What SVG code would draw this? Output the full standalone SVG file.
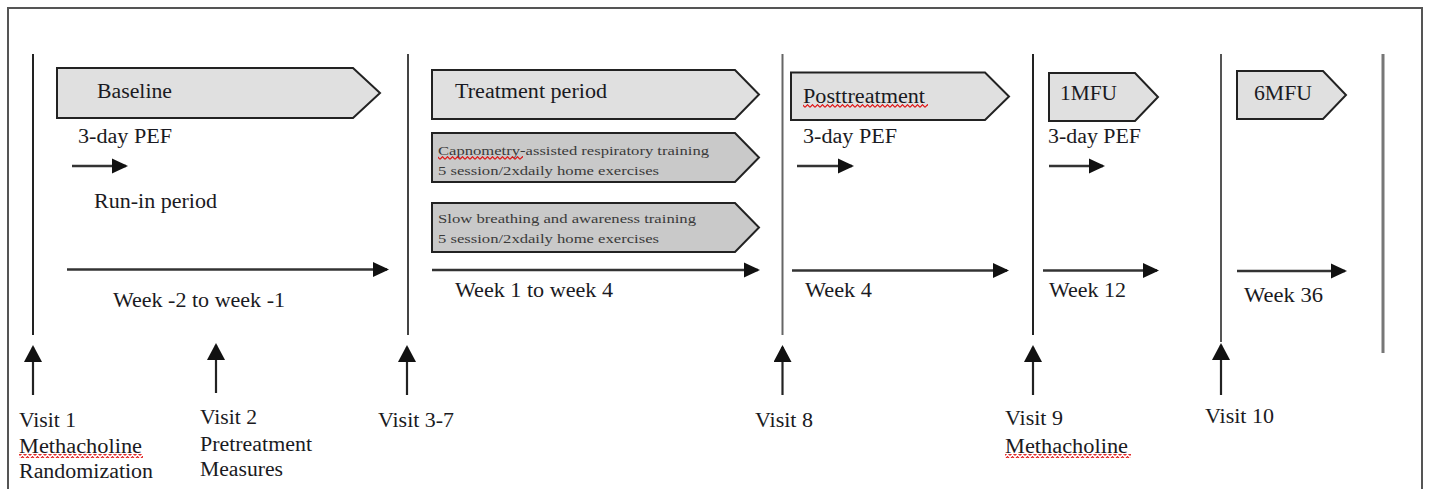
<svg xmlns="http://www.w3.org/2000/svg" width="1429" height="489" viewBox="0 0 1429 489">
<style>
.t{font-family:"Liberation Serif","Times New Roman",serif;font-size:20px;fill:#1a1a22}
.s{font-family:"Liberation Serif","Times New Roman",serif;font-size:13.5px;fill:#3a3a3a}
.box1{fill:#e0e0e0;stroke:#222;stroke-width:2}
.box2{fill:#c9c9c9;stroke:#222;stroke-width:2}
.harr{stroke:#333;stroke-width:2.5;fill:none;marker-end:url(#hh)}
.varr{stroke:#222;stroke-width:2.2;fill:none;marker-end:url(#vh)}
.sq{fill:url(#wave)}
</style>
<defs>
<marker id="hh" markerUnits="userSpaceOnUse" markerWidth="16" markerHeight="16" viewBox="0 0 16 16" refX="14" refY="8" orient="auto">
<path d="M0,0.5 L16,8 L0,15.5 Z" fill="#111"/>
</marker>
<marker id="vh" markerUnits="userSpaceOnUse" markerWidth="17" markerHeight="18" viewBox="0 0 17 18" refX="15" refY="9" orient="auto">
<path d="M0,0 L17,9 L0,18 Z" fill="#111"/>
</marker>
<pattern id="wave" patternUnits="userSpaceOnUse" width="5" height="4">
<path d="M0,3.3 L2.5,0.7 L5,3.3" stroke="#e01010" stroke-width="1.2" fill="none"/>
</pattern>
</defs>
<rect width="1429" height="489" fill="#fff"/>
<rect x="8" y="8" width="1414" height="500" fill="none" stroke="#555" stroke-width="2"/>

<g id="timeline-lines">
<line x1="33" y1="54" x2="33" y2="335" stroke="#222" stroke-width="2"/>
<line x1="408" y1="54" x2="408" y2="335" stroke="#444" stroke-width="2"/>
<line x1="782.5" y1="54" x2="782.5" y2="335" stroke="#666" stroke-width="2"/>
<line x1="1033" y1="54" x2="1033" y2="335" stroke="#222" stroke-width="2"/>
<line x1="1221" y1="54" x2="1221" y2="342" stroke="#555" stroke-width="2"/>
<line x1="1383" y1="54" x2="1383" y2="353" stroke="#777" stroke-width="3"/>
</g>

<g id="connectors">
<line class="harr" x1="72" y1="166" x2="126" y2="166"/>
<line class="harr" x1="67" y1="269.5" x2="387" y2="269.5"/>
<line class="harr" x1="432" y1="270" x2="758" y2="270"/>
<line class="harr" x1="797" y1="166" x2="852" y2="166"/>
<line class="harr" x1="792" y1="270.5" x2="1007" y2="270.5"/>
<line class="harr" x1="1049" y1="166" x2="1103" y2="166"/>
<line class="harr" x1="1043" y1="270.5" x2="1157" y2="270.5"/>
<line class="harr" x1="1237" y1="271" x2="1345" y2="271"/>
<line class="varr" x1="33" y1="395" x2="33" y2="347"/>
<line class="varr" x1="216" y1="393" x2="216" y2="345"/>
<line class="varr" x1="407" y1="395" x2="407" y2="347"/>
<line class="varr" x1="782.5" y1="395" x2="782.5" y2="347"/>
<line class="varr" x1="1033" y1="395" x2="1033" y2="347"/>
<line class="varr" x1="1221" y1="395" x2="1221" y2="345"/>
</g>

<g id="baseline">
<path class="box1" d="M57,68 L353,68 L380,93 L353,118 L57,118 Z"/>
<text class="t" x="97" y="98" textLength="75" lengthAdjust="spacingAndGlyphs">Baseline</text>
<text class="t" x="78" y="142.5" textLength="94" lengthAdjust="spacingAndGlyphs">3-day PEF</text>
<text class="t" x="94" y="207.5" textLength="123" lengthAdjust="spacingAndGlyphs">Run-in period</text>
<text class="t" x="113" y="306.5" textLength="172" lengthAdjust="spacingAndGlyphs">Week -2 to week -1</text>
</g>

<g id="treatment">
<path class="box1" d="M432,70 L735,70 L759,94.5 L735,119 L432,119 Z"/>
<text class="t" x="455" y="97.5" textLength="152" lengthAdjust="spacingAndGlyphs">Treatment period</text>
<text class="t" x="455" y="296.5" textLength="158" lengthAdjust="spacingAndGlyphs">Week 1 to week 4</text>
</g>

<g id="capnometry">
<path class="box2" d="M432,133 L735,133 L759,157.5 L735,182 L432,182 Z"/>
<text class="s" x="438" y="155" textLength="271" lengthAdjust="spacingAndGlyphs">Capnometry-assisted respiratory training</text>
<text class="s" x="438" y="175" textLength="221" lengthAdjust="spacingAndGlyphs">5 session/2xdaily home exercises</text>
<rect class="sq" x="438" y="156" width="85" height="4"/>
</g>

<g id="slow-breathing">
<path class="box2" d="M432,203 L735,203 L759,227.5 L735,252 L432,252 Z"/>
<text class="s" x="438" y="223" textLength="258" lengthAdjust="spacingAndGlyphs">Slow breathing and awareness training</text>
<text class="s" x="438" y="242.5" textLength="221" lengthAdjust="spacingAndGlyphs">5 session/2xdaily home exercises</text>
</g>

<g id="posttreatment">
<path class="box1" d="M791,72.5 L985,72.5 L1009,96.5 L985,120 L791,120 Z"/>
<text class="t" x="803" y="102.5" textLength="122" lengthAdjust="spacingAndGlyphs">Posttreatment</text>
<rect class="sq" x="803" y="104" width="125" height="4"/>
<text class="t" x="803" y="142.5" textLength="94" lengthAdjust="spacingAndGlyphs">3-day PEF</text>
<text class="t" x="805" y="297" textLength="67" lengthAdjust="spacingAndGlyphs">Week 4</text>
</g>

<g id="mfu1">
<path class="box1" d="M1049,73 L1135,73 L1158,97 L1135,121 L1049,121 Z"/>
<text class="t" x="1060" y="100" textLength="57" lengthAdjust="spacingAndGlyphs">1MFU</text>
<text class="t" x="1048" y="142.5" textLength="93" lengthAdjust="spacingAndGlyphs">3-day PEF</text>
<text class="t" x="1049" y="297" textLength="77" lengthAdjust="spacingAndGlyphs">Week 12</text>
</g>

<g id="mfu6">
<path class="box1" d="M1237,71 L1323,71 L1346,95 L1323,119 L1237,119 Z"/>
<text class="t" x="1254" y="100" textLength="58" lengthAdjust="spacingAndGlyphs">6MFU</text>
<text class="t" x="1244" y="301.5" textLength="79" lengthAdjust="spacingAndGlyphs">Week 36</text>
</g>

<g id="visit1">
<text class="t" x="19" y="426.5" textLength="57" lengthAdjust="spacingAndGlyphs">Visit 1</text>
<text class="t" x="19" y="453" textLength="123" lengthAdjust="spacingAndGlyphs">Methacholine</text>
<rect class="sq" x="19" y="454" width="124" height="4"/>
<text class="t" x="19" y="477.5" textLength="134" lengthAdjust="spacingAndGlyphs">Randomization</text>
</g>

<g id="visit2">
<text class="t" x="200" y="424" textLength="57" lengthAdjust="spacingAndGlyphs">Visit 2</text>
<text class="t" x="200" y="451" textLength="112" lengthAdjust="spacingAndGlyphs">Pretreatment</text>
<text class="t" x="200" y="475.5" textLength="83" lengthAdjust="spacingAndGlyphs">Measures</text>
</g>

<g id="visit3-7">
<text class="t" x="378" y="426.5" textLength="76" lengthAdjust="spacingAndGlyphs">Visit 3-7</text>
</g>

<g id="visit8">
<text class="t" x="755" y="426.5" textLength="58" lengthAdjust="spacingAndGlyphs">Visit 8</text>
</g>

<g id="visit9">
<text class="t" x="1005" y="425" textLength="58" lengthAdjust="spacingAndGlyphs">Visit 9</text>
<text class="t" x="1005" y="453" textLength="123" lengthAdjust="spacingAndGlyphs">Methacholine</text>
<rect class="sq" x="1005" y="454" width="126" height="4"/>
</g>

<g id="visit10">
<text class="t" x="1205" y="423" textLength="69" lengthAdjust="spacingAndGlyphs">Visit 10</text>
</g>
</svg>
